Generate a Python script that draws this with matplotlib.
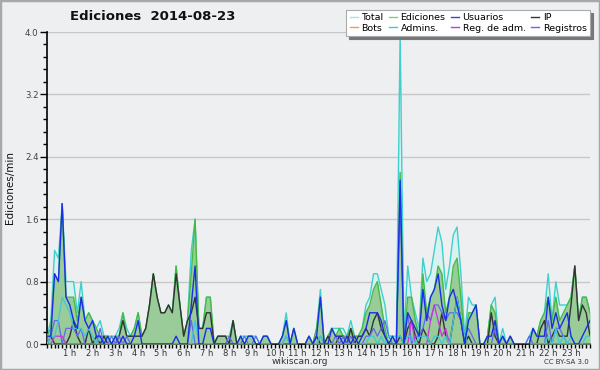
import numpy as np
import matplotlib
matplotlib.use("Agg")
import matplotlib.pyplot as plt
from matplotlib.lines import Line2D
from matplotlib.patches import Rectangle

# 10-minute bins, edits per minute
usuarios = [
    0.1, 0.1, 0.9, 0.8, 1.8, 0.6,
    0.5, 0.3, 0.2, 0.6, 0.3, 0.2,
    0.3, 0.1, 0.1, 0.0, 0.1, 0.0,
    0.1, 0.0, 0.1, 0.0, 0.0, 0.1,
    0.3, 0.0, 0.0, 0.0, 0.0, 0.0,
    0.0, 0.0, 0.0, 0.0, 0.1, 0.0,
    0.0, 0.0, 0.5, 1.0, 0.0, 0.0,
    0.2, 0.2, 0.0, 0.0, 0.0, 0.0,
    0.0, 0.0, 0.0, 0.1, 0.0, 0.1,
    0.1, 0.0, 0.0, 0.1, 0.1, 0.0,
    0.0, 0.0, 0.1, 0.3, 0.0, 0.2,
    0.0, 0.0, 0.0, 0.1, 0.0, 0.1,
    0.6, 0.0, 0.0, 0.2, 0.1, 0.1,
    0.0, 0.1, 0.0, 0.1, 0.0, 0.1,
    0.2, 0.4, 0.4, 0.4, 0.3, 0.1,
    0.0, 0.1, 0.0, 2.1, 0.0, 0.4,
    0.3, 0.2, 0.1, 0.7, 0.3, 0.6,
    0.7, 0.9, 0.5, 0.3, 0.6, 0.7,
    0.5, 0.3, 0.0, 0.3, 0.4, 0.5,
    0.0, 0.0, 0.1, 0.1, 0.3, 0.0,
    0.1, 0.0, 0.1, 0.0, 0.0, 0.0,
    0.0, 0.0, 0.2, 0.1, 0.1, 0.1,
    0.6, 0.2, 0.4, 0.2, 0.3, 0.4,
    0.1, 0.0, 0.0, 0.1, 0.2, 0.3,
]
ip = [
    0.0, 0.1, 0.0, 0.0, 0.0, 0.0,
    0.1, 0.3, 0.1, 0.0, 0.0, 0.2,
    0.0, 0.1, 0.0, 0.1, 0.0, 0.0,
    0.0, 0.1, 0.3, 0.1, 0.1, 0.1,
    0.1, 0.1, 0.2, 0.5, 0.9, 0.6,
    0.4, 0.4, 0.5, 0.4, 0.9, 0.5,
    0.1, 0.3, 0.4, 0.6, 0.2, 0.2,
    0.4, 0.4, 0.0, 0.1, 0.1, 0.1,
    0.0, 0.3, 0.0, 0.0, 0.0, 0.0,
    0.0, 0.0, 0.0, 0.0, 0.0, 0.0,
    0.0, 0.0, 0.0, 0.0, 0.0, 0.0,
    0.0, 0.0, 0.0, 0.0, 0.0, 0.1,
    0.0, 0.0, 0.1, 0.0, 0.0, 0.1,
    0.1, 0.0, 0.2, 0.0, 0.1, 0.1,
    0.2, 0.1, 0.3, 0.4, 0.2, 0.1,
    0.0, 0.0, 0.0, 0.1, 0.0, 0.2,
    0.3, 0.1, 0.0, 0.2, 0.1, 0.0,
    0.0, 0.1, 0.4, 0.1, 0.0, 0.3,
    0.6, 0.3, 0.0, 0.1, 0.0, 0.0,
    0.0, 0.0, 0.0, 0.4, 0.1, 0.0,
    0.0, 0.0, 0.0, 0.0, 0.0, 0.0,
    0.0, 0.0, 0.0, 0.0, 0.2, 0.3,
    0.0, 0.1, 0.2, 0.1, 0.1, 0.1,
    0.5, 1.0, 0.3, 0.5, 0.4, 0.1,
]
registros = [
    0.0, 0.1, 0.3, 0.3, 0.0, 0.2,
    0.2, 0.2, 0.1, 0.2, 0.0, 0.0,
    0.0, 0.0, 0.2, 0.0, 0.0, 0.1,
    0.0, 0.1, 0.0, 0.1, 0.0, 0.0,
    0.0, 0.0, 0.0, 0.0, 0.0, 0.0,
    0.0, 0.0, 0.0, 0.0, 0.0, 0.0,
    0.0, 0.0, 0.3, 0.0, 0.0, 0.0,
    0.0, 0.0, 0.0, 0.0, 0.0, 0.0,
    0.1, 0.0, 0.0, 0.0, 0.1, 0.0,
    0.0, 0.1, 0.0, 0.0, 0.0, 0.0,
    0.0, 0.0, 0.0, 0.1, 0.0, 0.0,
    0.0, 0.0, 0.0, 0.0, 0.0, 0.0,
    0.1, 0.0, 0.0, 0.0, 0.1, 0.0,
    0.1, 0.0, 0.1, 0.0, 0.0, 0.0,
    0.1, 0.1, 0.2, 0.1, 0.2, 0.3,
    0.1, 0.0, 0.0, 1.8, 0.1, 0.4,
    0.0, 0.1, 0.1, 0.2, 0.4, 0.3,
    0.5, 0.5, 0.4, 0.3, 0.4, 0.4,
    0.4, 0.3, 0.1, 0.2, 0.1, 0.0,
    0.0, 0.0, 0.0, 0.0, 0.2, 0.0,
    0.1, 0.0, 0.0, 0.0, 0.0, 0.0,
    0.0, 0.1, 0.0, 0.0, 0.0, 0.0,
    0.3, 0.0, 0.2, 0.2, 0.1, 0.0,
    0.0, 0.0, 0.0, 0.0, 0.0, 0.0,
]
admins = [
    0.0, 0.1, 0.1, 0.3, 0.6, 0.5,
    0.4, 0.2, 0.2, 0.2, 0.1, 0.2,
    0.1, 0.0, 0.1, 0.0, 0.0, 0.0,
    0.0, 0.0, 0.0, 0.0, 0.0, 0.0,
    0.0, 0.0, 0.0, 0.0, 0.0, 0.0,
    0.0, 0.0, 0.0, 0.0, 0.0, 0.0,
    0.0, 0.0, 0.0, 0.3, 0.0, 0.0,
    0.0, 0.0, 0.0, 0.0, 0.0, 0.0,
    0.0, 0.0, 0.0, 0.0, 0.0, 0.0,
    0.0, 0.0, 0.0, 0.0, 0.0, 0.0,
    0.0, 0.0, 0.0, 0.1, 0.0, 0.0,
    0.0, 0.0, 0.0, 0.0, 0.0, 0.0,
    0.1, 0.0, 0.0, 0.0, 0.0, 0.0,
    0.0, 0.0, 0.0, 0.0, 0.0, 0.0,
    0.0, 0.1, 0.1, 0.0, 0.1, 0.0,
    0.1, 0.1, 0.1, 0.1, 0.0, 0.1,
    0.1, 0.0, 0.1, 0.1, 0.1, 0.0,
    0.1, 0.1, 0.0, 0.1, 0.0, 0.3,
    0.6, 0.3, 0.1, 0.0, 0.0, 0.0,
    0.0, 0.0, 0.0, 0.0, 0.0, 0.0,
    0.0, 0.0, 0.0, 0.0, 0.0, 0.0,
    0.0, 0.0, 0.0, 0.0, 0.0, 0.0,
    0.1, 0.0, 0.2, 0.0, 0.1, 0.0,
    0.1, 0.0, 0.0, 0.0, 0.1, 0.1,
]
reg_adm = [0.0] * 144
for k, v in {2: 0.1, 3: 0.1, 4: 0.1, 96: 0.3, 101: 0.3, 102: 0.5,
             103: 0.3, 104: 0.1, 105: 0.2}.items():
    reg_adm[k] = v
bots = [0.0] * 144

hour_labels = [f"{h} h" for h in range(1, 24)]

usuarios = np.array(usuarios)
ip = np.array(ip)
registros = np.array(registros)
admins = np.array(admins)
reg_adm = np.array(reg_adm)
bots = np.array(bots)
ediciones = usuarios + ip + bots
total = ediciones + registros

x = np.arange(144) / 6.0

BG = "#eeeff1"
fig = plt.figure(figsize=(6.0, 3.7), dpi=100, facecolor=BG)
ax = fig.add_axes([47 / 600, 26 / 370, 543 / 600, 312 / 370])
ax.set_facecolor(BG)

c_total_fill = "#d9f1f1"
c_total = "#3fd0cc"
c_ed_fill = "#99cc99"
c_ed = "#44bb44"
c_usr = "#1a2ee8"
c_ip = "#333333"
c_bots = "#f0a040"
c_adm = "#3cc8e0"
c_regadm = "#cc33dd"
c_reg = "#6666ee"

ax.fill_between(x, 0, total, color=c_total_fill, lw=0, zorder=1)
ax.plot(x, total, color=c_total, lw=1.0, zorder=2)
ax.fill_between(x, 0, ediciones, color=c_ed_fill, lw=0, zorder=3)
ax.plot(x, ediciones, color=c_ed, lw=1.0, zorder=4)
ax.plot(x, bots, color=c_bots, lw=0.9, zorder=4)
ax.plot(x, ip, color=c_ip, lw=1.0, zorder=5)
ax.plot(x, registros, color=c_reg, lw=0.9, zorder=5)
ax.plot(x, reg_adm, color=c_regadm, lw=0.9, zorder=5)
ax.plot(x, admins, color=c_adm, lw=0.9, zorder=5)
ax.plot(x, usuarios, color=c_usr, lw=1.0, zorder=6)

ax.set_xlim(0, 143 / 6)
ax.set_ylim(0, 4.0)
yt = np.arange(0, 4.01, 0.8)
ax.set_yticks(yt)
ax.set_yticklabels([f"{v:.1f}" for v in yt], fontsize=6.2, color="#444444")
ax.set_yticks(np.arange(0, 4.01, 0.16), minor=True)
ax.set_xticks(np.arange(1, 24))
ax.set_xticklabels(hour_labels, fontsize=6.0, color="#333333")
ax.set_xticks(x, minor=True)
ax.tick_params(axis="both", which="both", direction="out", color="black", width=1.0)
ax.tick_params(axis="y", which="major", length=5, pad=1)
ax.tick_params(axis="y", which="minor", length=3)
ax.tick_params(axis="x", which="both", length=3, pad=0.5)
for s in ["top", "right"]:
    ax.spines[s].set_visible(False)
ax.spines["left"].set_linewidth(1.2)
ax.spines["bottom"].set_linewidth(1.2)
ax.grid(axis="y", which="major", color="#c8c8c8", lw=1.0, zorder=0)
ax.set_axisbelow(True)
ax.set_ylabel("Ediciones/min", fontsize=7.5, labelpad=7, color="#111111")

fig.text(153 / 600, 1 - 17 / 370, "Ediciones  2014-08-23", fontsize=9.5,
         fontweight="bold", ha="center", va="center", color="#111111")
fig.text(300 / 600, 1 - 362 / 370, "wikiscan.org", fontsize=6.5,
         ha="center", va="center", color="#333333")
fig.text(589 / 600, 1 - 362 / 370, "CC BY-SA 3.0", fontsize=5,
         ha="right", va="center", color="#333333")

handles = [
    Line2D([], [], color="#a8e4e4", lw=1), Line2D([], [], color=c_bots, lw=1),
    Line2D([], [], color="#80cc80", lw=1), Line2D([], [], color=c_adm, lw=1),
    Line2D([], [], color="#4040e0", lw=1), Line2D([], [], color=c_regadm, lw=1),
    Line2D([], [], color="#333333", lw=1), Line2D([], [], color=c_reg, lw=1),
]
labels = ["Total", "Bots", "Ediciones", "Admins.", "Usuarios",
          "Reg. de adm.", "IP", "Registros"]
leg = fig.legend(handles, labels, ncol=4, loc="upper right",
                 bbox_to_anchor=(590 / 600, 1 - 10 / 370), fontsize=6.8,
                 frameon=True, fancybox=False, shadow={"color": "#777777", "alpha": 1.0},
                 handlelength=0.9, handletextpad=0.35, columnspacing=0.55,
                 labelspacing=0.15, borderpad=0.35, borderaxespad=0)
leg.get_frame().set_edgecolor("#aaaaaa")
leg.get_frame().set_linewidth(0.8)
leg.set_zorder(10)

fig.add_artist(Rectangle((0, 0), 1, 1, transform=fig.transFigure, fill=False,
                         edgecolor="#a8a8a8", lw=2.5))

fig.savefig("out.png", dpi=100, facecolor=BG)
